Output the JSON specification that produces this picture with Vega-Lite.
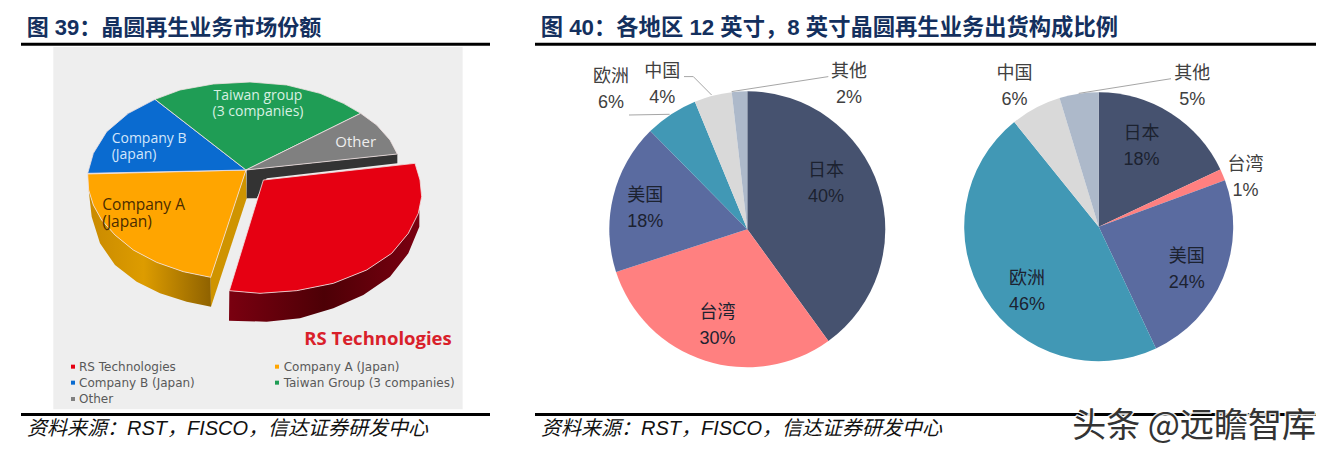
{
"$schema":"https://vega.github.io/schema/vega-lite/v6.json",
"padding":{"left":19,"top":0,"right":0,"bottom":0},
"background":"white",
"config":{"view":{"stroke":null},"axis":{"disable":true},"concat":{"spacing":0}},
"datasets":{
"shapes":[
{"part":"sideA","i":1,"x":266,"y":570},{"part":"sideA","i":2,"x":280,"y":615},{"part":"sideA","i":3,"x":305,"y":660},{"part":"sideA","i":4,"x":345,"y":705},{"part":"sideA","i":5,"x":400,"y":750},{"part":"sideA","i":6,"x":470,"y":787},{"part":"sideA","i":7,"x":550,"y":815},{"part":"sideA","i":8,"x":632,"y":832},{"part":"sideA","i":9,"x":633,"y":920},{"part":"sideA","i":10,"x":560,"y":905},{"part":"sideA","i":11,"x":480,"y":880},{"part":"sideA","i":12,"x":410,"y":845},{"part":"sideA","i":13,"x":345,"y":795},{"part":"sideA","i":14,"x":300,"y":730},{"part":"sideA","i":15,"x":275,"y":650},
{"part":"innerA","i":1,"x":632,"y":832},{"part":"innerA","i":2,"x":738,"y":510},{"part":"innerA","i":3,"x":740,"y":595},{"part":"innerA","i":4,"x":633,"y":920},
{"part":"dark","i":1,"x":740,"y":510},{"part":"dark","i":2,"x":1192,"y":462},{"part":"dark","i":3,"x":1192,"y":490},{"part":"dark","i":4,"x":800,"y":535},{"part":"dark","i":5,"x":770,"y":595},{"part":"dark","i":6,"x":740,"y":595},
{"part":"sideR","i":1,"x":688,"y":872},{"part":"sideR","i":2,"x":780,"y":880},{"part":"sideR","i":3,"x":890,"y":872},{"part":"sideR","i":4,"x":1000,"y":850},{"part":"sideR","i":5,"x":1100,"y":810},{"part":"sideR","i":6,"x":1175,"y":760},{"part":"sideR","i":7,"x":1225,"y":700},{"part":"sideR","i":8,"x":1258,"y":630},{"part":"sideR","i":9,"x":1258,"y":680},{"part":"sideR","i":10,"x":1225,"y":760},{"part":"sideR","i":11,"x":1170,"y":830},{"part":"sideR","i":12,"x":1090,"y":885},{"part":"sideR","i":13,"x":1000,"y":925},{"part":"sideR","i":14,"x":900,"y":955},{"part":"sideR","i":15,"x":800,"y":965},{"part":"sideR","i":16,"x":687,"y":962}
],
"faces":[
{"part":"Company A (Japan)","i":1,"x":738,"y":510},{"part":"Company A (Japan)","i":2,"x":263,"y":522},{"part":"Company A (Japan)","i":3,"x":266,"y":570},{"part":"Company A (Japan)","i":4,"x":280,"y":615},{"part":"Company A (Japan)","i":5,"x":305,"y":660},{"part":"Company A (Japan)","i":6,"x":345,"y":705},{"part":"Company A (Japan)","i":7,"x":400,"y":750},{"part":"Company A (Japan)","i":8,"x":470,"y":787},{"part":"Company A (Japan)","i":9,"x":550,"y":815},{"part":"Company A (Japan)","i":10,"x":632,"y":832},{"part":"Company A (Japan)","i":11,"x":738,"y":510},
{"part":"Company B (Japan)","i":1,"x":738,"y":510},{"part":"Company B (Japan)","i":2,"x":263,"y":520},{"part":"Company B (Japan)","i":3,"x":280,"y":460},{"part":"Company B (Japan)","i":4,"x":320,"y":395},{"part":"Company B (Japan)","i":5,"x":385,"y":340},{"part":"Company B (Japan)","i":6,"x":465,"y":298},{"part":"Company B (Japan)","i":7,"x":738,"y":510},
{"part":"Taiwan Group (3 companies)","i":1,"x":738,"y":510},{"part":"Taiwan Group (3 companies)","i":2,"x":465,"y":298},{"part":"Taiwan Group (3 companies)","i":3,"x":540,"y":270},{"part":"Taiwan Group (3 companies)","i":4,"x":640,"y":252},{"part":"Taiwan Group (3 companies)","i":5,"x":750,"y":246},{"part":"Taiwan Group (3 companies)","i":6,"x":860,"y":255},{"part":"Taiwan Group (3 companies)","i":7,"x":960,"y":280},{"part":"Taiwan Group (3 companies)","i":8,"x":1030,"y":310},{"part":"Taiwan Group (3 companies)","i":9,"x":1082,"y":340},{"part":"Taiwan Group (3 companies)","i":10,"x":738,"y":510},
{"part":"Other","i":1,"x":738,"y":510},{"part":"Other","i":2,"x":1082,"y":340},{"part":"Other","i":3,"x":1130,"y":375},{"part":"Other","i":4,"x":1170,"y":420},{"part":"Other","i":5,"x":1192,"y":462},{"part":"Other","i":6,"x":738,"y":510},
{"part":"RS Technologies","i":1,"x":790,"y":540},{"part":"RS Technologies","i":2,"x":1245,"y":490},{"part":"RS Technologies","i":3,"x":1260,"y":540},{"part":"RS Technologies","i":4,"x":1265,"y":590},{"part":"RS Technologies","i":5,"x":1255,"y":640},{"part":"RS Technologies","i":6,"x":1225,"y":700},{"part":"RS Technologies","i":7,"x":1175,"y":760},{"part":"RS Technologies","i":8,"x":1100,"y":810},{"part":"RS Technologies","i":9,"x":1000,"y":850},{"part":"RS Technologies","i":10,"x":890,"y":872},{"part":"RS Technologies","i":11,"x":780,"y":880},{"part":"RS Technologies","i":12,"x":688,"y":872},{"part":"RS Technologies","i":13,"x":790,"y":540}
],
"legend":[
{"part":"RS Technologies","x":219,"y":1100,"tx":237},
{"part":"Company A (Japan)","x":831,"y":1100,"tx":851},
{"part":"Company B (Japan)","x":219,"y":1148,"tx":237},
{"part":"Taiwan Group (3 companies)","x":831,"y":1148,"tx":851},
{"part":"Other","x":219,"y":1197,"tx":237}
],
"pie12":[
{"region":"日本","order":1,"share":40,"label":"日本\n40%"},
{"region":"台湾","order":2,"share":30,"label":"台湾\n30%"},
{"region":"美国","order":3,"share":17.6,"label":"美国\n18%"},
{"region":"欧洲","order":4,"share":6.2,"label":"欧洲\n6%"},
{"region":"中国","order":5,"share":4.4,"label":"中国\n4%"},
{"region":"其他","order":6,"share":1.8,"label":"其他\n2%"}
],
"pie8":[
{"region":"日本","order":1,"share":18,"label":"日本\n18%"},
{"region":"台湾","order":2,"share":1.4,"label":"台湾\n1%"},
{"region":"美国","order":3,"share":23.6,"label":"美国\n24%"},
{"region":"欧洲","order":4,"share":46.2,"label":"欧洲\n46%"},
{"region":"中国","order":5,"share":6.1,"label":"中国\n6%"},
{"region":"其他","order":6,"share":4.7,"label":"其他\n5%"}
]
},
"hconcat":[
{"width":516,"height":457,
"encoding":{"x":{"field":"x","type":"quantitative","scale":{"domain":[57,1605],"nice":false,"zero":false}},"y":{"field":"y","type":"quantitative","scale":{"domain":[1371,0],"nice":false,"zero":false}}},
"layer":[
{"data":{"values":[{"x":160,"x2":1388,"y":141,"y2":1228}]},"mark":{"type":"rect","color":"#eeeeee"},"encoding":{"x2":{"field":"x2"},"y2":{"field":"y2"}}},
{"data":{"name":"shapes"},"transform":[{"filter":"datum.part==='sideA'"}],"mark":{"type":"line","stroke":null,"fill":{"gradient":"linear","x1":0,"y1":0,"x2":1,"y2":0,"stops":[{"offset":0,"color":"#c98a00"},{"offset":0.45,"color":"#dd9c00"},{"offset":1,"color":"#8f6200"}]}},"encoding":{"order":{"field":"i","type":"quantitative"}}},
{"data":{"name":"shapes"},"transform":[{"filter":"datum.part==='innerA'"}],"mark":{"type":"line","stroke":null,"fill":"#cf9400"},"encoding":{"order":{"field":"i","type":"quantitative"}}},
{"data":{"name":"shapes"},"transform":[{"filter":"datum.part==='dark'"}],"mark":{"type":"line","stroke":null,"fill":"#333333"},"encoding":{"order":{"field":"i","type":"quantitative"}}},
{"data":{"name":"shapes"},"transform":[{"filter":"datum.part==='sideR'"}],"mark":{"type":"line","stroke":null,"fill":{"gradient":"linear","x1":0,"y1":0,"x2":1,"y2":0,"stops":[{"offset":0,"color":"#7a0010"},{"offset":0.5,"color":"#4d0006"},{"offset":1,"color":"#7a0010"}]}},"encoding":{"order":{"field":"i","type":"quantitative"}}},
{"data":{"name":"faces"},"mark":{"type":"line","stroke":"#f3e3e3","strokeWidth":0.8},"encoding":{"fill":{"field":"part","type":"nominal","legend":null,"scale":{"domain":["RS Technologies","Company A (Japan)","Company B (Japan)","Taiwan Group (3 companies)","Other"],"range":["#e60012","#ffa500","#0a6bd0","#1f9d55","#808080"]}},"order":{"field":"i","type":"quantitative"}}},
{"data":{"values":[{"x":774,"y":288,"t":"Taiwan group\n(3 companies)"}]},"mark":{"type":"text","font":"Open Sans","fontSize":14,"lineBreak":"\n","lineHeight":16,"color":"#d8f0e2"},"encoding":{"text":{"field":"t","type":"nominal"}}},
{"data":{"values":[{"x":335,"y":418,"t":"Company B\n(Japan)"}]},"mark":{"type":"text","align":"left","font":"Open Sans","fontSize":14,"lineBreak":"\n","lineHeight":16,"color":"#d3e6fb"},"encoding":{"text":{"field":"t","type":"nominal"}}},
{"data":{"values":[{"x":307,"y":616,"t":"Company A\n(Japan)"}]},"mark":{"type":"text","align":"left","font":"Open Sans","fontSize":15.5,"lineBreak":"\n","lineHeight":17,"color":"#4a2c00"},"encoding":{"text":{"field":"t","type":"nominal"}}},
{"data":{"values":[{"x":1067,"y":425,"t":"Other"}]},"mark":{"type":"text","font":"Open Sans","fontSize":15,"color":"#eeeeee"},"encoding":{"text":{"field":"t","type":"nominal"}}},
{"data":{"values":[{"x":1134,"y":1017,"t":"RS Technologies"}]},"mark":{"type":"text","font":"Open Sans","fontSize":18.5,"fontWeight":"bold","color":"#d9202a"},"encoding":{"text":{"field":"t","type":"nominal"}}},
{"data":{"name":"legend"},"mark":{"type":"square","size":16,"opacity":1},"encoding":{"fill":{"field":"part","type":"nominal","legend":null}}},
{"data":{"name":"legend"},"mark":{"type":"text","align":"left","font":"DejaVu Sans","fontSize":12,"color":"#595959"},"encoding":{"x":{"field":"tx","type":"quantitative"},"text":{"field":"part","type":"nominal"}}},
{"data":{"values":[{"x":80,"y":84,"t":"图 39：晶圆再生业务市场份额"}]},"mark":{"type":"text","align":"left","baseline":"middle","font":"'Liberation Sans','Noto Sans CJK SC'","fontSize":22,"fontWeight":"bold","color":"#14305e"},"encoding":{"text":{"field":"t","type":"nominal"}}},
{"data":{"values":[{"x":81,"y":1287,"t":"资料来源：RST，FISCO，信达证券研发中心"}]},"mark":{"type":"text","align":"left","baseline":"middle","font":"'Liberation Sans','Noto Sans CJK SC'","fontSize":20,"fontStyle":"italic","color":"#111111"},"encoding":{"text":{"field":"t","type":"nominal"}}},
{"data":{"values":[{"x":63,"x2":1470,"y":132.6},{"x":63,"x2":1470,"y":1243.8}]},"mark":{"type":"rule","color":"#000000","strokeWidth":3},"encoding":{"x2":{"field":"x2"}}}
]},
{"width":424.6,"height":458.6,
"layer":[
{"data":{"name":"pie12"},"mark":{"type":"arc","outerRadius":138},"encoding":{"theta":{"field":"share","type":"quantitative","stack":true},"order":{"field":"order","type":"quantitative"},"color":{"field":"region","type":"nominal","legend":null,"scale":{"domain":["日本","台湾","美国","欧洲","中国","其他"],"range":["#46526f","#ff8080","#5a6ba0","#4198b5","#d9d9d9","#adb9ca"]}}}},
{"data":{"values":[{"k":"a","i":1,"x":-118.3,"y":-114.3},{"k":"a","i":2,"x":-77.7,"y":-115},{"k":"b","i":1,"x":-63.3,"y":-152.7},{"k":"b","i":2,"x":-54,"y":-152.7},{"k":"b","i":3,"x":-35.7,"y":-134.3},{"k":"c","i":1,"x":81,"y":-152.7},{"k":"c","i":2,"x":-15.7,"y":-137.7}]},"mark":{"type":"line","stroke":"#a6a6a6","strokeWidth":1},"encoding":{"x":{"field":"x","type":"quantitative","scale":{"domain":[-212.3,212.3],"nice":false,"zero":false}},"y":{"field":"y","type":"quantitative","scale":{"domain":[229.3,-229.3],"nice":false,"zero":false}},"detail":{"field":"k"},"order":{"field":"i","type":"quantitative"}}},
{"data":{"name":"pie12"},"mark":{"type":"text","radius":85,"dx":-2.1,"dy":-31.7,"font":"'Liberation Sans','Noto Sans CJK SC'","fontSize":18,"lineBreak":"\n","lineHeight":26,"color":"#1c2230"},"encoding":{"theta":{"field":"share","type":"quantitative","stack":true},"order":{"field":"order","type":"quantitative"},"detail":{"field":"region"},"text":{"condition":{"test":"datum.region==='日本'","field":"label","type":"nominal"},"value":""}}},
{"data":{"name":"pie12"},"mark":{"type":"text","radius":100,"dx":1,"dy":-11,"font":"'Liberation Sans','Noto Sans CJK SC'","fontSize":18,"lineBreak":"\n","lineHeight":26,"color":"#1c2230"},"encoding":{"theta":{"field":"share","type":"quantitative","stack":true},"order":{"field":"order","type":"quantitative"},"detail":{"field":"region"},"text":{"condition":{"test":"datum.region==='台湾'","field":"label","type":"nominal"},"value":""}}},
{"data":{"name":"pie12"},"mark":{"type":"text","radius":105,"dx":0,"dy":-8.8,"font":"'Liberation Sans','Noto Sans CJK SC'","fontSize":18,"lineBreak":"\n","lineHeight":26,"color":"#1c2230"},"encoding":{"theta":{"field":"share","type":"quantitative","stack":true},"order":{"field":"order","type":"quantitative"},"detail":{"field":"region"},"text":{"condition":{"test":"datum.region==='美国'","field":"label","type":"nominal"},"value":""}}},
{"data":{"name":"pie12"},"mark":{"type":"text","radius":170,"dx":-42.5,"dy":-10.5,"font":"'Liberation Sans','Noto Sans CJK SC'","fontSize":18,"lineBreak":"\n","lineHeight":26,"color":"#404040"},"encoding":{"theta":{"field":"share","type":"quantitative","stack":true},"order":{"field":"order","type":"quantitative"},"detail":{"field":"region"},"text":{"condition":{"test":"datum.region==='欧洲'","field":"label","type":"nominal"},"value":""}}},
{"data":{"name":"pie12"},"mark":{"type":"text","radius":150,"dx":-47.7,"dy":-12,"font":"'Liberation Sans','Noto Sans CJK SC'","fontSize":18,"lineBreak":"\n","lineHeight":26,"color":"#404040"},"encoding":{"theta":{"field":"share","type":"quantitative","stack":true},"order":{"field":"order","type":"quantitative"},"detail":{"field":"region"},"text":{"condition":{"test":"datum.region==='中国'","field":"label","type":"nominal"},"value":""}}},
{"data":{"name":"pie12"},"mark":{"type":"text","radius":146,"dx":110,"dy":-11.5,"font":"'Liberation Sans','Noto Sans CJK SC'","fontSize":18,"lineBreak":"\n","lineHeight":26,"color":"#404040"},"encoding":{"theta":{"field":"share","type":"quantitative","stack":true},"order":{"field":"order","type":"quantitative"},"detail":{"field":"region"},"text":{"condition":{"test":"datum.region==='其他'","field":"label","type":"nominal"},"value":""}}},
{"data":{"values":[{"t":"图 40：各地区 12 英寸，8 英寸晶圆再生业务出货构成比例"}]},"mark":{"type":"text","align":"left","baseline":"middle","font":"'Liberation Sans','Noto Sans CJK SC'","fontSize":22.3,"fontWeight":"bold","color":"#14305e"},"encoding":{"x":{"datum":-206.6},"y":{"datum":-201.3},"text":{"field":"t","type":"nominal"}}},
{"data":{"values":[{"t":"top"}]},"mark":{"type":"rule","color":"#000000","strokeWidth":3},"encoding":{"x":{"datum":-212.3},"x2":{"datum":568.7},"y":{"datum":-185.1}}},
{"data":{"values":[{"t":"bottom"}]},"mark":{"type":"rule","color":"#000000","strokeWidth":3},"encoding":{"x":{"datum":-212.3},"x2":{"datum":568.7},"y":{"datum":185.3}}},
{"data":{"values":[{"t":"资料来源：RST，FISCO，信达证券研发中心"}]},"mark":{"type":"text","align":"left","baseline":"middle","font":"'Liberation Sans','Noto Sans CJK SC'","fontSize":20,"fontStyle":"italic","color":"#111111"},"encoding":{"x":{"datum":-206.3},"y":{"datum":199.7},"text":{"field":"t","type":"nominal"}}},
{"data":{"values":[{"w":"头条 @远瞻智库"}]},"mark":{"type":"text","align":"right","baseline":"middle","font":"Noto Sans CJK SC","fontSize":34,"color":"#333333","stroke":"#ffffff","strokeWidth":3,"strokeOpacity":0.9},"encoding":{"x":{"datum":568.7},"y":{"datum":197.7},"text":{"field":"w","type":"nominal"}}},
{"data":{"values":[{"w":"头条 @远瞻智库"}]},"mark":{"type":"text","align":"right","baseline":"middle","font":"Noto Sans CJK SC","fontSize":34,"color":"#333333"},"encoding":{"x":{"datum":568.7},"y":{"datum":197.7},"text":{"field":"w","type":"nominal"}}}
]},
{"width":277.4,"height":453.4,
"layer":[
{"data":{"name":"pie8"},"mark":{"type":"arc","outerRadius":134.5},"encoding":{"theta":{"field":"share","type":"quantitative","stack":true},"order":{"field":"order","type":"quantitative"},"color":{"field":"region","type":"nominal","legend":null,"scale":{"domain":["日本","台湾","美国","欧洲","中国","其他"],"range":["#46526f","#ff8080","#5a6ba0","#4198b5","#d9d9d9","#adb9ca"]}}}},
{"data":{"values":[{"k":"c","i":1,"x":72.3,"y":-148},{"k":"c","i":2,"x":-20,"y":-133.3}]},"mark":{"type":"line","stroke":"#a6a6a6","strokeWidth":1},"encoding":{"x":{"field":"x","type":"quantitative","scale":{"domain":[-138.7,138.7],"nice":false,"zero":false}},"y":{"field":"y","type":"quantitative","scale":{"domain":[226.7,-226.7],"nice":false,"zero":false}},"detail":{"field":"k"},"order":{"field":"i","type":"quantitative"}}},
{"data":{"name":"pie8"},"mark":{"type":"text","radius":90,"dx":-5.5,"dy":-16.8,"font":"'Liberation Sans','Noto Sans CJK SC'","fontSize":18,"lineBreak":"\n","lineHeight":26,"color":"#1c2230"},"encoding":{"theta":{"field":"share","type":"quantitative","stack":true},"order":{"field":"order","type":"quantitative"},"detail":{"field":"region"},"text":{"condition":{"test":"datum.region==='日本'","field":"label","type":"nominal"},"value":""}}},
{"data":{"name":"pie8"},"mark":{"type":"text","radius":155,"dx":3.7,"dy":-2.4,"font":"'Liberation Sans','Noto Sans CJK SC'","fontSize":18,"lineBreak":"\n","lineHeight":26,"color":"#404040"},"encoding":{"theta":{"field":"share","type":"quantitative","stack":true},"order":{"field":"order","type":"quantitative"},"detail":{"field":"region"},"text":{"condition":{"test":"datum.region==='台湾'","field":"label","type":"nominal"},"value":""}}},
{"data":{"name":"pie8"},"mark":{"type":"text","radius":97,"dx":-1.7,"dy":-6.1,"font":"'Liberation Sans','Noto Sans CJK SC'","fontSize":18,"lineBreak":"\n","lineHeight":26,"color":"#1c2230"},"encoding":{"theta":{"field":"share","type":"quantitative","stack":true},"order":{"field":"order","type":"quantitative"},"detail":{"field":"region"},"text":{"condition":{"test":"datum.region==='美国'","field":"label","type":"nominal"},"value":""}}},
{"data":{"name":"pie8"},"mark":{"type":"text","radius":96,"dx":9.7,"dy":1.6,"font":"'Liberation Sans','Noto Sans CJK SC'","fontSize":18,"lineBreak":"\n","lineHeight":26,"color":"#1c2230"},"encoding":{"theta":{"field":"share","type":"quantitative","stack":true},"order":{"field":"order","type":"quantitative"},"detail":{"field":"region"},"text":{"condition":{"test":"datum.region==='欧洲'","field":"label","type":"nominal"},"value":""}}},
{"data":{"name":"pie8"},"mark":{"type":"text","radius":160,"dx":-9.4,"dy":-11.6,"font":"'Liberation Sans','Noto Sans CJK SC'","fontSize":18,"lineBreak":"\n","lineHeight":26,"color":"#404040"},"encoding":{"theta":{"field":"share","type":"quantitative","stack":true},"order":{"field":"order","type":"quantitative"},"detail":{"field":"region"},"text":{"condition":{"test":"datum.region==='中国'","field":"label","type":"nominal"},"value":""}}},
{"data":{"name":"pie8"},"mark":{"type":"text","radius":143,"dx":114.5,"dy":-11.6,"font":"'Liberation Sans','Noto Sans CJK SC'","fontSize":18,"lineBreak":"\n","lineHeight":26,"color":"#404040"},"encoding":{"theta":{"field":"share","type":"quantitative","stack":true},"order":{"field":"order","type":"quantitative"},"detail":{"field":"region"},"text":{"condition":{"test":"datum.region==='其他'","field":"label","type":"nominal"},"value":""}}}
]}
],
"spacing":0,
"bounds":"flush"
}
